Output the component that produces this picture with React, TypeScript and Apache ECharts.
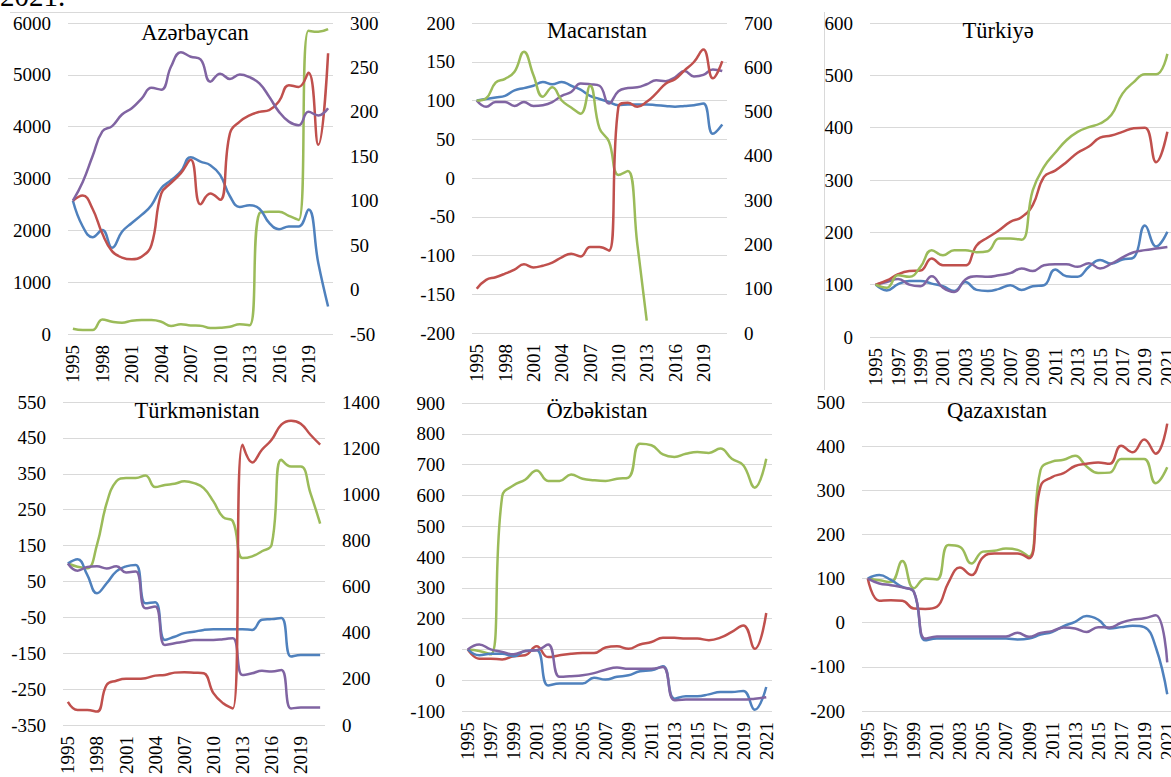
import React, { useEffect, useRef } from 'react';
import * as echarts from 'echarts';

const YEARS = ['1995','1996','1997','1998','1999','2000','2001','2002','2003','2004','2005','2006','2007','2008','2009','2010','2011','2012','2013','2014','2015','2016','2017','2018','2019','2020','2021'];

// Azərbaycan (green on left axis, others on right axis)
const AZ_GREEN = [100, 75, 75, 280, 237, 218, 256, 270, 270, 237, 155, 190, 165, 160, 115, 120, 140, 190, 170, 2330, 2360, 2360, 2280, 2200, 5850, 5830, 5880];
const AZ_RED = [100, 106, 91, 63, 43, 36, 34, 37, 50, 108, 120, 131, 146, 96, 108, 101, 176, 189, 196, 200, 202, 212, 230, 228, 244, 163, 266];
const AZ_BLUE = [100, 71, 59, 67, 47, 65, 75, 84, 95, 114, 123, 133, 149, 144, 140, 129, 105, 93, 95, 91, 75, 68, 71, 71, 90, 30, -19];
const AZ_PURPLE = [100, 121, 150, 178, 184, 197, 204, 215, 227, 225, 251, 267, 262, 259, 234, 243, 237, 242, 239, 232, 217, 200, 189, 185, 200, 196, 204];

// Macarıstan (red on right axis)
const HU_GREEN = [100, 103, 123, 128, 137, 163, 133, 105, 117, 100, 91, 83, 119, 64, 47, 4, 9, -85, -184, null, null, null, null, null, null, null, null];
const HU_BLUE = [100, 102, 104, 106, 113, 116, 119, 124, 121, 124, 119, 114, 106, 102, 98, 94, 95, 95, 95, 94, 93, 92, 93, 94, 96, 57, 69];
const HU_PURPLE = [100, 92, 98, 98, 93, 98, 93, 94, 98, 106, 111, 122, 121, 119, 96, 112, 116, 117, 121, 126, 125, 130, 138, 131, 133, 140, 138];
const HU_RED = [100, 120, 126, 134, 143, 155, 148, 152, 159, 171, 179, 173, 194, 194, 186, 511, 520, 511, 522, 541, 563, 573, 593, 612, 640, 575, 614];

// Türkiyə
const TR_GREEN = [100, 94, 118, 115, 134, 166, 156, 166, 166, 162, 164, 188, 188, 186, 280, 325, 352, 376, 392, 401, 408, 424, 465, 487, 502, 502, 541];
const TR_RED = [100, 108, 120, 126, 127, 150, 137, 137, 137, 175, 190, 204, 220, 229, 252, 306, 318, 334, 352, 364, 381, 385, 392, 399, 400, 334, 392];
const TR_BLUE = [100, 89, 101, 107, 107, 102, 97, 88, 105, 90, 88, 92, 99, 90, 97, 99, 129, 116, 115, 134, 147, 140, 148, 152, 213, 173, 201];
const TR_PURPLE = [100, 105, 111, 100, 97, 116, 94, 86, 110, 116, 115, 118, 122, 131, 126, 137, 139, 139, 134, 141, 131, 140, 152, 162, 166, 169, 172];

// Türkmənistan (red on right axis)
const TM_GREEN = [100, 91, 87, 152, 268, 329, 338, 338, 345, 313, 319, 322, 329, 324, 310, 273, 229, 218, 115, 120, 134, 152, 389, 370, 370, 296, 211];
const TM_BLUE = [100, 112, 68, 17, 45, 78, 92, 96, -11, -8, -113, -104, -94, -90, -85, -83, -83, -83, -83, -85, -57, -55, -52, -159, -155, -155, -155];
const TM_PURPLE = [100, 80, 90, 92, 86, 92, 75, 78, -25, -20, -127, -122, -118, -113, -113, -113, -111, -108, -211, -206, -199, -201, -197, -304, -301, -301, -301];
const TM_RED = [100, 65, 65, 58, 174, 192, 200, 200, 203, 214, 217, 227, 229, 227, 224, 138, 94, 72, 1215, 1138, 1193, 1236, 1302, 1319, 1306, 1258, 1215];

// Özbəkistan
const UZ_GREEN = [100, 95, 84, 597, 633, 651, 681, 647, 647, 668, 654, 649, 647, 654, 658, 768, 763, 733, 725, 735, 741, 738, 752, 719, 698, 625, 719];
const UZ_RED = [100, 70, 70, 67, 78, 81, 110, 75, 81, 86, 88, 88, 106, 110, 102, 116, 124, 138, 138, 135, 135, 130, 138, 157, 178, 102, 218];
const UZ_BLUE = [100, 81, 86, 86, 78, 95, 97, -17, -11, -11, -11, 8, 2, 11, 16, 29, 32, 45, -60, -52, -52, -46, -38, -38, -35, -96, -22];
const UZ_PURPLE = [100, 116, 100, 92, 84, 95, 97, 116, 11, 13, 16, 23, 34, 41, 37, 37, 37, 43, -65, -63, -63, -63, -63, -63, -63, -60, -55];

// Qazaxıstan
const KZ_RED = [100, 50, 51, 50, 32, 31, 36, 91, 125, 108, 148, 157, 157, 157, 146, 309, 330, 339, 355, 360, 363, 360, 401, 386, 415, 383, 451];
const KZ_GREEN = [100, 96, 92, 140, 78, 100, 98, 176, 172, 134, 161, 163, 168, 165, 150, 346, 365, 369, 378, 354, 339, 340, 371, 371, 371, 316, 352];
const KZ_BLUE = [100, 108, 97, 81, 70, -40, -36, -36, -36, -36, -36, -36, -36, -38, -36, -27, -21, -8, 2, 15, 7, -13, -10, -7, -10, -55, -162];
const KZ_PURPLE = [100, 89, 85, 80, 70, -36, -31, -31, -31, -31, -31, -31, -31, -23, -32, -23, -19, -11, -13, -21, -10, -11, 0, 7, 10, 17, -90];

const BLUE = '#4F81BD';
const RED = '#C0504D';
const GREEN = '#9BBB59';
const PURPLE = '#8064A2';
const FONT = 'Liberation Serif, Times New Roman, serif';

type AxisSpec = { min: number; max: number; interval: number };
type SeriesSpec = { data: (number | null)[]; color: string; right?: boolean };
type Panel = {
  name: string;
  tx: number;
  ty: number;
  grid: { left: number; top: number; width: number; height: number };
  every: number;
  leftAxis: AxisSpec;
  rightAxis?: AxisSpec;
  series: SeriesSpec[];
};

const PANELS: Panel[] = [
  {
    name: 'Azərbaycan', tx: 195, ty: 32,
    grid: { left: 68, top: 23, width: 265, height: 311 }, every: 2,
    leftAxis: { min: 0, max: 6000, interval: 1000 },
    rightAxis: { min: -50, max: 300, interval: 50 },
    series: [
      { data: AZ_GREEN, color: GREEN },
      { data: AZ_BLUE, color: BLUE, right: true },
      { data: AZ_RED, color: RED, right: true },
      { data: AZ_PURPLE, color: PURPLE, right: true },
    ],
  },
  {
    name: 'Macarıstan', tx: 597, ty: 30,
    grid: { left: 472, top: 23, width: 255, height: 310 }, every: 2,
    leftAxis: { min: -200, max: 200, interval: 50 },
    rightAxis: { min: 0, max: 700, interval: 100 },
    series: [
      { data: HU_BLUE, color: BLUE },
      { data: HU_PURPLE, color: PURPLE },
      { data: HU_GREEN, color: GREEN },
      { data: HU_RED, color: RED, right: true },
    ],
  },
  {
    name: 'Türkiyə', tx: 998, ty: 30,
    grid: { left: 870, top: 23, width: 303, height: 314 }, every: 1,
    leftAxis: { min: 0, max: 600, interval: 100 },
    series: [
      { data: TR_BLUE, color: BLUE },
      { data: TR_PURPLE, color: PURPLE },
      { data: TR_RED, color: RED },
      { data: TR_GREEN, color: GREEN },
    ],
  },
  {
    name: 'Türkmənistan', tx: 197, ty: 410,
    grid: { left: 63, top: 402, width: 262, height: 323 }, every: 2,
    leftAxis: { min: -350, max: 550, interval: 100 },
    rightAxis: { min: 0, max: 1400, interval: 200 },
    series: [
      { data: TM_GREEN, color: GREEN },
      { data: TM_BLUE, color: BLUE },
      { data: TM_PURPLE, color: PURPLE },
      { data: TM_RED, color: RED, right: true },
    ],
  },
  {
    name: 'Özbəkistan', tx: 597, ty: 410,
    grid: { left: 462, top: 403, width: 310, height: 308 }, every: 1,
    leftAxis: { min: -100, max: 900, interval: 100 },
    series: [
      { data: UZ_GREEN, color: GREEN },
      { data: UZ_RED, color: RED },
      { data: UZ_BLUE, color: BLUE },
      { data: UZ_PURPLE, color: PURPLE },
    ],
  },
  {
    name: 'Qazaxıstan', tx: 997, ty: 410,
    grid: { left: 862, top: 402, width: 311, height: 309 }, every: 1,
    leftAxis: { min: -200, max: 500, interval: 100 },
    series: [
      { data: KZ_GREEN, color: GREEN },
      { data: KZ_RED, color: RED },
      { data: KZ_BLUE, color: BLUE },
      { data: KZ_PURPLE, color: PURPLE },
    ],
  },
];

const plain = (v: number | string) => String(v);

function buildOption() {
  const grid: any[] = [];
  const xAxis: any[] = [];
  const yAxis: any[] = [];
  const series: any[] = [];
  const graphic: any[] = [];

  const labelStyle = { fontSize: 19, fontFamily: FONT, color: '#000', fontWeight: 'normal', formatter: plain };

  PANELS.forEach((p, i) => {
    grid.push({ ...p.grid, containLabel: false, outerBoundsMode: 'none' });
    xAxis.push({
      type: 'category', gridIndex: i, data: YEARS, boundaryGap: true,
      axisLine: { show: false }, axisTick: { show: false }, splitLine: { show: false },
      axisLabel: { ...labelStyle, interval: p.every, rotate: 90, margin: 11 },
    });
    const leftIdx = yAxis.length;
    yAxis.push({
      type: 'value', gridIndex: i, position: 'left',
      min: p.leftAxis.min, max: p.leftAxis.max, interval: p.leftAxis.interval,
      axisLine: { show: false }, axisTick: { show: false },
      splitLine: { show: true, lineStyle: { color: '#D9D9D9', width: 1 } },
      axisLabel: { ...labelStyle, margin: 17 },
    });
    let rightIdx = leftIdx;
    if (p.rightAxis) {
      rightIdx = yAxis.length;
      yAxis.push({
        type: 'value', gridIndex: i, position: 'right',
        min: p.rightAxis.min, max: p.rightAxis.max, interval: p.rightAxis.interval,
        axisLine: { show: false }, axisTick: { show: false },
        splitLine: { show: false },
        axisLabel: { ...labelStyle, margin: 17 },
      });
    }
    p.series.forEach((s) => {
      series.push({
        type: 'line', xAxisIndex: i, yAxisIndex: s.right ? rightIdx : leftIdx,
        data: s.data, smooth: 0.45, showSymbol: false, symbol: 'none',
        connectNulls: false,
        lineStyle: { color: s.color, width: 2.5 },
        itemStyle: { color: s.color },
      });
    });
    graphic.push({
      type: 'text', x: p.tx, y: p.ty, z: 100,
      style: { text: p.name, fontSize: 22.5, fontFamily: FONT, fill: '#000', align: 'center', verticalAlign: 'middle' },
    });
  });

  graphic.push({
    type: 'text', x: 0, y: 10,
    style: { text: '2021.', fontSize: 29, fontFamily: FONT, fill: '#000', align: 'left', verticalAlign: 'bottom' },
  });
  graphic.push({ type: 'line', shape: { x1: 10, y1: 12.5, x2: 380, y2: 12.5 }, style: { stroke: '#D9D9D9', lineWidth: 1 } });
  graphic.push({ type: 'line', shape: { x1: 824.5, y1: 12, x2: 824.5, y2: 390 }, style: { stroke: '#D9D9D9', lineWidth: 1 } });

  return {
    animation: false,
    backgroundColor: '#fff',
    textStyle: { fontFamily: FONT, color: '#000' },
    grid, xAxis, yAxis, series, graphic,
  };
}

export default function App() {
  const ref = useRef<HTMLDivElement>(null);
  useEffect(() => {
    const chart = echarts.init(ref.current as HTMLDivElement, null, { renderer: 'svg' });
    chart.setOption(buildOption() as any);
    return () => chart.dispose();
  }, []);
  return <div ref={ref} style={{ position: 'absolute', left: 0, top: 0, width: 1171, height: 777, background: '#fff' }} />;
}
